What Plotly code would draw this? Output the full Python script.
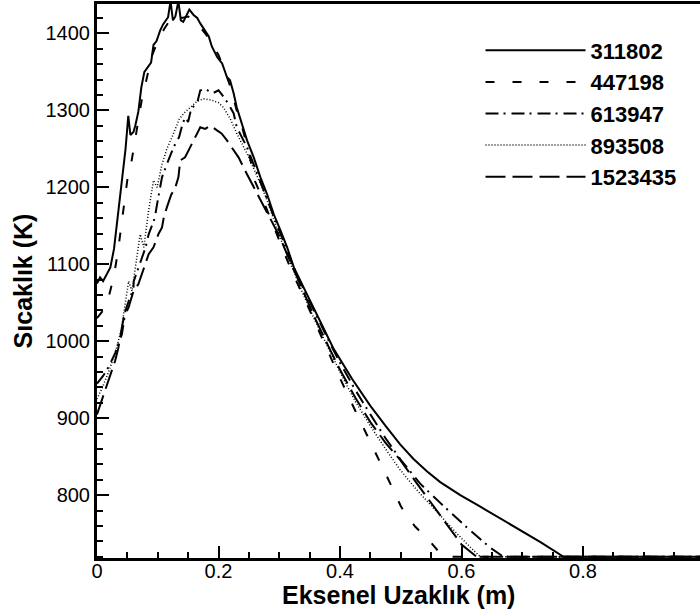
import plotly.graph_objects as go

# ---------------- data ----------------
names = ["311802", "447198", "613947", "893508", "1523435"]

x_311802 = [0.000, 0.005, 0.010, 0.015, 0.022, 0.028, 0.034, 0.038, 0.043, 0.047,
            0.0515, 0.055, 0.060, 0.063, 0.068, 0.073, 0.078, 0.084, 0.089, 0.093,
            0.098, 0.104, 0.109, 0.117, 0.121, 0.125, 0.129, 0.134, 0.138, 0.142,
            0.148, 0.152, 0.159, 0.165, 0.170, 0.178, 0.184, 0.189, 0.198, 0.206,
            0.214, 0.219, 0.225, 0.230, 0.241, 0.247, 0.258, 0.269, 0.280, 0.291,
            0.302, 0.313, 0.324, 0.340, 0.357, 0.373, 0.389, 0.420, 0.450, 0.475,
            0.499, 0.521, 0.543, 0.565, 0.598, 0.631, 0.664, 0.697, 0.730, 0.768,
            0.850, 0.995]
t_311802 = [1075, 1083, 1078, 1085, 1096, 1120, 1160, 1195, 1225, 1250,
            1293, 1268, 1272, 1280, 1298, 1330, 1350, 1356, 1362, 1385,
            1390, 1404, 1412, 1421, 1442, 1417, 1422, 1442, 1417, 1415,
            1426, 1431, 1424, 1420, 1413, 1404, 1396, 1383, 1369, 1361,
            1343, 1339, 1322, 1304, 1278, 1261, 1239, 1213, 1191, 1165,
            1144, 1122, 1096, 1070, 1044, 1017, 991, 951, 916, 890,
            866, 847, 831, 817, 800, 785, 770, 755, 739, 720,
            720, 720]

x_447198 = [0.000, 0.010, 0.020, 0.028, 0.035, 0.040, 0.045, 0.050, 0.055, 0.060,
            0.065, 0.070, 0.075, 0.080, 0.085, 0.090, 0.100, 0.110, 0.120, 0.130,
            0.140, 0.150, 0.160, 0.170, 0.180, 0.190, 0.200, 0.210, 0.220, 0.230,
            0.240, 0.250, 0.260, 0.270, 0.280, 0.290, 0.300, 0.320, 0.340, 0.360,
            0.380, 0.400, 0.425, 0.450, 0.475, 0.500, 0.5075, 0.524, 0.549, 0.570,
            0.700, 0.850, 0.995]
t_447198 = [1030, 1040, 1060, 1085, 1120, 1150, 1185, 1210, 1225, 1250,
            1275, 1300, 1320, 1335, 1355, 1370, 1390, 1405, 1417, 1425,
            1420, 1422, 1418, 1408, 1398, 1385, 1372, 1352, 1330, 1300,
            1275, 1245, 1208, 1190, 1170, 1150, 1130, 1092, 1058, 1022,
            987, 952, 910, 870, 828, 786, 776, 759, 739, 720,
            720, 720, 720]

x_613947 = [0.000, 0.010, 0.020, 0.030, 0.041, 0.047, 0.052, 0.060, 0.0605, 0.070,
            0.080, 0.085, 0.095, 0.100, 0.104, 0.107, 0.115, 0.120, 0.126, 0.135,
            0.140, 0.145, 0.150, 0.155, 0.165, 0.170, 0.180, 0.190, 0.200, 0.206,
            0.215, 0.225, 0.230, 0.247, 0.260, 0.270, 0.280, 0.290, 0.300, 0.320,
            0.340, 0.360, 0.380, 0.400, 0.425, 0.450, 0.475, 0.500, 0.532, 0.565,
            0.609, 0.647, 0.669, 0.800, 0.995]
t_613947 = [945, 955, 968, 985, 1009, 1040, 1052, 1068, 1078, 1100,
            1122, 1139, 1160, 1183, 1200, 1213, 1230, 1239, 1252, 1265,
            1280, 1291, 1285, 1302, 1310, 1326, 1327, 1322, 1326, 1320,
            1310, 1296, 1278, 1252, 1225, 1205, 1185, 1163, 1142, 1103,
            1068, 1035, 1003, 972, 937, 905, 874, 846, 815, 790,
            758, 732, 720, 720, 720]

x_893508 = [0.000, 0.010, 0.020, 0.030, 0.040, 0.047, 0.052, 0.0576, 0.065, 0.071,
            0.077, 0.085, 0.093, 0.099, 0.107, 0.115, 0.125, 0.135, 0.1425, 0.155,
            0.165, 0.1755, 0.190, 0.200, 0.208, 0.220, 0.230, 0.247, 0.260, 0.270,
            0.280, 0.290, 0.300, 0.320, 0.340, 0.360, 0.380, 0.400, 0.425, 0.450,
            0.475, 0.499, 0.525, 0.554, 0.575, 0.595, 0.615, 0.631, 0.800, 0.995]
t_893508 = [925, 942, 962, 985, 1015, 1050, 1078, 1065, 1110, 1139,
            1122, 1170, 1209, 1200, 1230, 1250, 1268, 1288, 1296, 1305,
            1312, 1315, 1313, 1310, 1304, 1288, 1270, 1244, 1222, 1203,
            1183, 1160, 1138, 1098, 1060, 1025, 992, 960, 922, 890,
            860, 833, 808, 783, 765, 748, 732, 720, 720, 720]

x_1523435 = [0.000, 0.010, 0.020, 0.030, 0.035, 0.044, 0.052, 0.060, 0.068, 0.077,
             0.085, 0.093, 0.101, 0.107, 0.110, 0.115, 0.122, 0.129, 0.134, 0.137,
             0.145, 0.152, 0.159, 0.165, 0.170, 0.178, 0.187, 0.1975, 0.205, 0.213,
             0.225, 0.233, 0.245, 0.258, 0.270, 0.280, 0.290, 0.300, 0.320, 0.340,
             0.360, 0.380, 0.400, 0.425, 0.450, 0.475, 0.500, 0.525, 0.550, 0.575,
             0.600, 0.625, 0.800, 0.995]
t_1523435 = [905, 928, 952, 975, 991, 1031, 1044, 1065, 1074, 1095,
             1113, 1122, 1139, 1148, 1161, 1174, 1190, 1200, 1213, 1235,
             1239, 1250, 1261, 1272, 1278, 1276, 1280, 1274, 1270, 1262,
             1248, 1239, 1220, 1200, 1183, 1168, 1152, 1137, 1100, 1063,
             1028, 995, 963, 927, 895, 868, 845, 817, 790, 762,
             736, 720, 720, 720]

x_ticks = [0, 0.2, 0.4, 0.6, 0.8]
x_ticktext = ["0", "0.2", "0.4", "0.6", "0.8"]
y_ticks = [800, 900, 1000, 1100, 1200, 1300, 1400]
x_title = "Eksenel Uzaklık (m)"
y_title = "Sıcaklık (K)"

series = [
    (names[0], x_311802, t_311802, "solid", 2.0),
    (names[1], x_447198, t_447198, "9px,18px", 2.0),
    (names[2], x_613947, t_613947, "13px,5px,2px,6px", 2.0),
    (names[3], x_893508, t_893508, "1px,2px", 1.5),
    (names[4], x_1523435, t_1523435, "20px,7px", 2.0),
]

fig = go.Figure()
for nm, xs, ts, dash, w in series:
    assert len(xs) == len(ts), nm
    fig.add_trace(go.Scatter(
        x=xs, y=ts, mode="lines", name=nm, legendgroup=nm,
        line=dict(color="black", width=w, dash=dash),
    ))

FONT = "Liberation Sans, Arial, Helvetica, sans-serif"

fig.update_layout(
    width=700, height=616,
    margin=dict(l=97, r=0, t=4, b=58, autoexpand=False),
    paper_bgcolor="white", plot_bgcolor="white",
    font=dict(family=FONT, color="black", size=20),
    legend=dict(
        x=0.636, y=0.954, xanchor="left", yanchor="top",
        bgcolor="rgba(0,0,0,0)", borderwidth=0,
        font=dict(family=FONT, size=22, color="black", weight="bold"),
        itemwidth=100, tracegroupgap=0, traceorder="grouped",
    ),
    showlegend=True,
    annotations=[dict(
        text=x_title, xref="paper", yref="paper", x=0.5, y=-0.067,
        xanchor="center", yanchor="middle", showarrow=False,
        font=dict(family=FONT, size=25, color="black", weight="bold"),
    )],
)

fig.update_xaxes(
    range=[0, 0.9926], tickvals=x_ticks, ticktext=x_ticktext,
    ticks="inside", ticklen=12, tickwidth=2, tickcolor="black",
    minor=dict(dtick=0.05, ticks="inside", ticklen=6, tickwidth=1.5, tickcolor="black"),
    showline=True, linewidth=3, linecolor="black", mirror=True,
    showgrid=False, zeroline=False, automargin=False, ticklabelstandoff=-7,
    tickfont=dict(family=FONT, size=20, color="black"),
)
fig.update_yaxes(
    range=[718.4, 1438.2], tickvals=y_ticks,
    ticks="inside", ticklen=12, tickwidth=2, tickcolor="black",
    minor=dict(dtick=20, tick0=0, ticks="inside", ticklen=6, tickwidth=1.5, tickcolor="black"),
    showline=True, linewidth=3, linecolor="black", mirror=False,
    showgrid=False, zeroline=False, automargin=False,
    tickfont=dict(family=FONT, size=20, color="black"),
    title=dict(text=y_title, standoff=6,
               font=dict(family=FONT, size=25, color="black", weight="bold")),
)

fig.write_html("out.html", config={"displayModeBar": False},
               post_script="document.body.style.margin='0';")
